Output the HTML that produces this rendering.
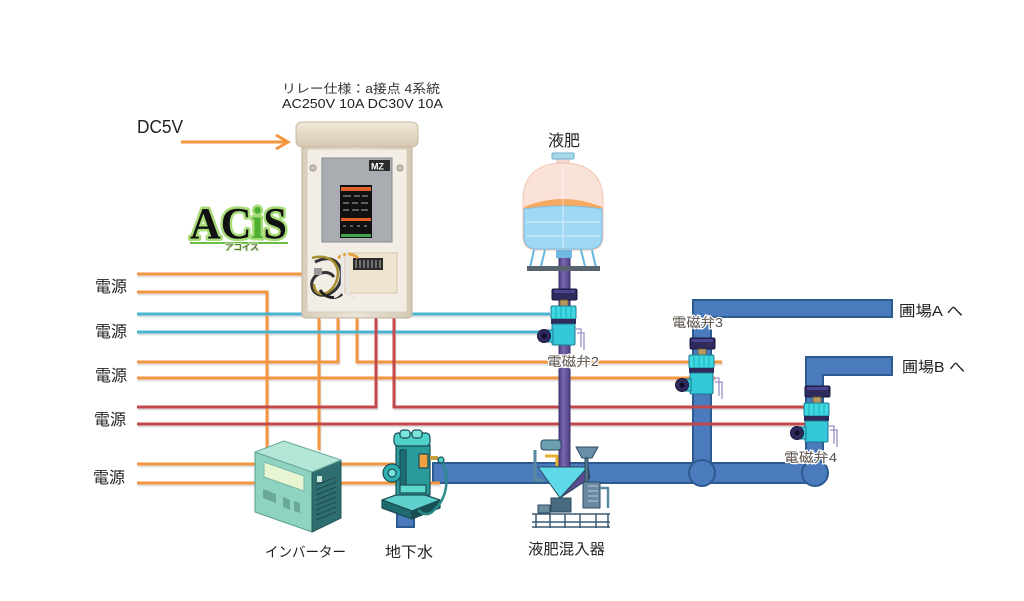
<!DOCTYPE html>
<html><head><meta charset="utf-8"><style>
html,body{margin:0;padding:0;background:#fff;}
svg{display:block;}
text{font-family:"Liberation Sans","Noto Sans CJK JP",sans-serif;}
</style></head><body>
<svg width="1024" height="601" viewBox="0 0 1024 601" xmlns="http://www.w3.org/2000/svg">
<defs>
<linearGradient id="lid" x1="0" y1="0" x2="0" y2="1"><stop offset="0" stop-color="#f1e9da"/><stop offset="1" stop-color="#d6c8b0"/></linearGradient>
<linearGradient id="body" x1="0" y1="0" x2="1" y2="0"><stop offset="0" stop-color="#d9cebb"/><stop offset="0.5" stop-color="#ebe4d8"/><stop offset="1" stop-color="#d3c8b5"/></linearGradient>
<linearGradient id="pur" x1="0" y1="0" x2="1" y2="0"><stop offset="0" stop-color="#4e3f82"/><stop offset="0.4" stop-color="#7a68b0"/><stop offset="1" stop-color="#4e3f82"/></linearGradient>
<g id="valve">
  <rect x="-12" y="0" width="25" height="11" rx="1.5" fill="#2e2a5c" stroke="#1a1840"/>
  <rect x="-10" y="1" width="21" height="3" fill="#4a4590"/>
  <rect x="-4" y="11" width="8" height="6" fill="#b89a60" stroke="#6a5530" stroke-width="0.8"/>
  <rect x="-13" y="17" width="25" height="13" rx="1.5" fill="#3ed8e0" stroke="#1a7a90"/>
  <path d="M-8,18v11M-3,18v11M2,18v11M7,18v11" stroke="#20a8c0" stroke-width="1"/>
  <rect x="-13" y="30" width="25" height="5" fill="#2e2a5c"/>
  <rect x="-12" y="35" width="23" height="21" rx="1.5" fill="#35c8d8" stroke="#1a7a90"/>
  <rect x="-22" y="41" width="11" height="12" fill="#35c8d8" stroke="#1a7a90"/>
  <circle cx="-20" cy="47" r="6.5" fill="#2e2a5c" stroke="#1a1840"/>
  <circle cx="-20" cy="47" r="2.5" fill="#0e0c28"/>
  <path d="M11,40h6v18M13,44h7v17" fill="none" stroke="#9a90c8" stroke-width="1.3"/>
</g>
</defs>

<!-- wire shadows -->
<g stroke="#000" stroke-opacity="0.12" stroke-width="3" fill="none" transform="translate(1,2)">
<path d="M137,274H302M137,292H267V450M137,314H550M137,332H550M137,362H338V318M357,318V362H722M137,378H715M137,407H376V318M394,318V407H806M137,424H806M319,318V450M137,464H395M137,483H440"/>
</g>

<!-- blue water pipes -->
<g fill="#4a7bbd" stroke="#2d5a8f" stroke-width="2">
<path d="M693,470V300H892V317H711V470Z"/>
<path d="M806,470V357H892V375H823V470Z"/>
<rect x="433" y="463" width="385" height="20"/>
<circle cx="702" cy="473" r="13"/>
<circle cx="815" cy="473" r="13"/>
<rect x="397" y="490" width="17" height="37"/>
</g>

<!-- wires -->
<g stroke-width="3" fill="none" stroke-linejoin="miter">
<path d="M137,274H302M137,292H267V450M137,362H338V318M357,318V362H722M137,378H715M319,318V450M137,464H395M137,483H440" stroke="#f4953f"/>
<path d="M137,314H550M137,332H550" stroke="#4bb4d0"/>
<path d="M137,407H376V318M394,318V407H806M137,424H806" stroke="#c4474b"/>
</g>

<!-- DC5V arrow -->
<path d="M181,142H286" stroke="#f4953f" stroke-width="3"/>
<path d="M276,135L288,142L276,149" stroke="#f4953f" stroke-width="3" fill="none"/>

<!-- purple pipe -->
<rect x="559" y="255" width="11" height="212" fill="url(#pur)" stroke="#3e316e" stroke-width="1"/>

<!-- control box -->
<g>
<rect x="302" y="140" width="110" height="178" rx="4" fill="url(#body)" stroke="#bfb29c"/>
<rect x="307" y="149" width="100" height="163" rx="2" fill="#f2ede5" stroke="#d8cdbb"/>
<path d="M296,128Q296,122 304,122H410Q418,122 418,128V141Q418,147 410,147H304Q296,147 296,141Z" fill="url(#lid)" stroke="#c8b99f"/>
<circle cx="313" cy="168" r="3" fill="#cfc6b8" stroke="#9a9080"/>
<circle cx="400" cy="168" r="3" fill="#cfc6b8" stroke="#9a9080"/>
<rect x="322" y="158" width="70" height="84" fill="#a9adb2" stroke="#858a90"/>
<rect x="369" y="160" width="21" height="11" fill="#2b2b2b"/>
<text x="371" y="169.5" font-size="9" font-weight="bold" fill="#fff">MZ</text>
<rect x="340" y="185" width="32" height="53" fill="#111"/>
<rect x="341" y="187" width="30" height="4" fill="#e0632b"/>
<rect x="341" y="218" width="30" height="3" fill="#e0632b"/>
<rect x="341" y="234" width="30" height="3" fill="#3fa34a"/>
<g stroke="#ddd" stroke-width="0.8">
<path d="M343,196h8M354,196h6M362,196h6M343,203h6M352,203h6M361,203h7M343,210h6M352,210h7M361,210h7M343,226h3M350,226h3M357,226h3M364,226h3"/>
</g>
<rect x="345" y="253" width="52" height="40" fill="#efe4d0" stroke="#d8c8ae"/>
<rect x="353" y="258" width="30" height="12" fill="#2a2a2a"/>
<path d="M356,260v8M360,260v8M364,260v8M368,260v8M372,260v8M376,260v8M380,260v8" stroke="#bbb" stroke-width="1"/>
<path d="M338,258q10,-8 20,0" stroke="#e3a040" stroke-width="3" fill="none"/>
<path d="M315,262c20,-10 30,5 25,20s-25,18 -28,5c-3,-12 15,-20 22,-10" stroke="#333" stroke-width="3" fill="none"/>
<path d="M312,258c22,-6 32,12 22,28c-8,12 -20,10 -20,-2" stroke="#a89030" stroke-width="2.5" fill="none"/>
<path d="M320,290c5,8 15,10 22,4" stroke="#222" stroke-width="3" fill="none"/>
<path d="M342,250v35q0,10 -8,12M347,250v38q0,8 8,10" stroke="#e6e6e6" stroke-width="2.5" fill="none"/>
<rect x="314" y="268" width="8" height="7" fill="#999"/>
</g>

<!-- ACiS logo -->
<text x="190" y="238" style="font-family:'Liberation Serif',serif;font-weight:bold;font-size:44px" textLength="97" lengthAdjust="spacingAndGlyphs" fill="#111" stroke="#a8dc78" stroke-width="5" paint-order="stroke" stroke-linejoin="round">AC<tspan fill="#4caf30">i</tspan>S</text>
<line x1="190" y1="243" x2="288" y2="243" stroke="#6bbf45" stroke-width="2"/>
<text x="225" y="250" font-size="8.5" fill="#444" stroke="#c8eaa8" stroke-width="2" paint-order="stroke">アコイス</text>

<!-- tank -->
<g>
<rect x="556" y="157" width="14" height="7" fill="#f5d6cc"/>
<rect x="552" y="153" width="22" height="6" rx="1" fill="#a8d8ea" stroke="#6ab0cc"/>
<path d="M523,200C523,170 545,163 563,163C581,163 603,170 603,200V236Q603,250 589,250H537Q523,250 523,236Z" fill="#fbe2d9" stroke="#f0c4b4"/>
<path d="M524,207Q563,191 602,207V236Q602,249 589,249H537Q524,249 524,236Z" fill="#f5a860"/>
<path d="M524,209Q563,203 602,209V236Q602,249 589,249H537Q524,249 524,236Z" fill="#9fd8f5" stroke="#78c0e6"/>
<path d="M526,222H600M526,236H600" stroke="#c4e8fa" stroke-width="1.5"/>
<path d="M563,165V248" stroke="#fff" stroke-opacity="0.6" stroke-width="1"/>
<path d="M534,250L530,268M592,250L596,268M545,250L541,266M581,250L585,266" stroke="#60b8e0" stroke-width="2"/>
<rect x="527" y="266" width="73" height="5" fill="#5a6470"/>
<rect x="556" y="250" width="16" height="8" fill="#6fb8e0"/>
</g>

<!-- valves -->
<use href="#valve" x="564" y="289"/>
<use href="#valve" x="702" y="338"/>
<use href="#valve" x="817" y="386"/>

<!-- inverter -->
<g stroke-linejoin="round">
<polygon points="255,452 312,472 312,532 255,512" fill="#8ed3c0" stroke="#5a9e90"/>
<polygon points="312,472 341,460 341,518 312,532" fill="#2f6e70" stroke="#245858"/>
<polygon points="255,452 284,441 341,460 312,472" fill="#b4e6d8" stroke="#6aaa9a"/>
<polygon points="264,462 304,476 304,491 264,477" fill="#e8f5d2" stroke="#7ab8a8"/>
<polygon points="263,489 276,494 276,503 263,498" fill="#6aa898"/>
<polygon points="283,497 290,500 290,510 283,507" fill="#6aa898"/>
<polygon points="294,501 300,503 300,513 294,511" fill="#6aa898"/>
<g stroke="#1e4a4c" stroke-width="1"><path d="M316,485l20,-8M316,490l20,-8M316,495l20,-8M316,500l20,-8M316,505l20,-8M316,510l20,-8M316,515l20,-8M316,520l20,-8"/></g>
<rect x="317" y="476" width="5" height="6" fill="#cfe8e0"/>
</g>

<!-- pump -->
<g stroke="#1b4d55" stroke-width="1.2" stroke-linejoin="round">
<polygon points="382,500 410,490 440,500 412,511" fill="#5fd0cc"/>
<polygon points="382,500 412,511 412,519 382,508" fill="#1f6a6e"/>
<polygon points="412,511 440,500 440,508 412,519" fill="#164e52"/>
<rect x="396" y="445" width="34" height="50" fill="#2a9a9a"/>
<rect x="400" y="450" width="6" height="42" fill="#1c6e72"/>
<rect x="394" y="433" width="36" height="13" rx="4" fill="#4fd0c8"/>
<rect x="400" y="430" width="10" height="8" rx="3" fill="#7ae4dc"/>
<rect x="412" y="430" width="10" height="8" rx="3" fill="#7ae4dc"/>
<rect x="419" y="454" width="9" height="14" fill="#f0a040"/>
<circle cx="392" cy="473" r="9" fill="#2fb0b0"/>
<circle cx="392" cy="473" r="4" fill="#7ae4dc"/>
<rect x="400" y="485" width="26" height="8" fill="#5fd8d0"/>
<path d="M430,458h8" stroke="#c8a040" stroke-width="4"/>
<path d="M442,462q6,10 4,25t-14,25q-6,5 -14,-2" fill="none" stroke="#2a8a8a" stroke-width="2.5"/>
<circle cx="441" cy="460" r="3" fill="#4fd0c8"/>
</g>

<!-- mixer -->
<g stroke="#2b4a60" stroke-width="1" stroke-linejoin="round">
<rect x="541" y="440" width="20" height="10" rx="3" fill="#6ba0b0"/>
<path d="M535,450v30h8" fill="none" stroke="#5a8aa0" stroke-width="3"/>
<path d="M545,456h12v10" fill="none" stroke="#e8b030" stroke-width="3"/>
<polygon points="538,467 588,467 560,498" fill="#5fd8e8"/>
<polygon points="560,498 588,467 590,478" fill="#5a4a90"/>
<polygon points="576,447 598,447 592,458 582,458" fill="#6a8fa8"/>
<rect x="585" y="458" width="3" height="40" fill="#5a7a90"/>
<rect x="583" y="482" width="17" height="26" fill="#6a8aa0"/>
<path d="M588,486h10M588,491h10M588,496h10M588,501h10" stroke="#dde" stroke-width="0.8"/>
<path d="M600,488h8v20" fill="none" stroke="#5a8aa0" stroke-width="2.5"/>
<rect x="551" y="498" width="20" height="14" fill="#4a6a80"/>
<rect x="538" y="505" width="12" height="8" fill="#6a8aa0"/>
<path d="M532,514h78M532,522h78M532,527h78M536,514v14M550,514v14M565,514v14M580,514v14M596,514v14M608,514v14" stroke="#3a5a70" stroke-width="1.5"/>
</g>

<!-- labels -->
<g fill="#222" font-size="16">
<text x="95" y="292" textLength="32" lengthAdjust="spacingAndGlyphs">電源</text>
<text x="95" y="337" textLength="32" lengthAdjust="spacingAndGlyphs">電源</text>
<text x="95" y="381" textLength="32" lengthAdjust="spacingAndGlyphs">電源</text>
<text x="94" y="425" textLength="32" lengthAdjust="spacingAndGlyphs">電源</text>
<text x="93" y="483" textLength="32" lengthAdjust="spacingAndGlyphs">電源</text>
</g>
<text x="137" y="133" font-size="18" fill="#222" textLength="46" lengthAdjust="spacingAndGlyphs">DC5V</text>
<text x="282" y="93" font-size="12.5" fill="#333" textLength="158" lengthAdjust="spacingAndGlyphs">リレー仕様：a接点 4系統</text>
<text x="282" y="108" font-size="13" fill="#222" textLength="161" lengthAdjust="spacingAndGlyphs">AC250V 10A  DC30V 10A</text>
<text x="548" y="146" font-size="16" fill="#222" textLength="32" lengthAdjust="spacingAndGlyphs">液肥</text>
<g font-size="13" fill="#5a5048" stroke="#fff" stroke-width="2.5" paint-order="stroke">
<text x="547" y="366" textLength="52" lengthAdjust="spacingAndGlyphs">電磁弁2</text>
<text x="672" y="327" textLength="51" lengthAdjust="spacingAndGlyphs">電磁弁3</text>
<text x="784" y="462" textLength="53" lengthAdjust="spacingAndGlyphs">電磁弁4</text>
</g>
<g fill="#222" font-size="15">
<text x="899" y="316" textLength="64" lengthAdjust="spacingAndGlyphs">圃場A へ</text>
<text x="902" y="372" textLength="63" lengthAdjust="spacingAndGlyphs">圃場B へ</text>
<text x="265" y="557" font-size="14" textLength="81" lengthAdjust="spacingAndGlyphs">インバーター</text>
<text x="385" y="557" textLength="48" lengthAdjust="spacingAndGlyphs">地下水</text>
<text x="528" y="554" textLength="77" lengthAdjust="spacingAndGlyphs">液肥混入器</text>
</g>
</svg>
</body></html>
